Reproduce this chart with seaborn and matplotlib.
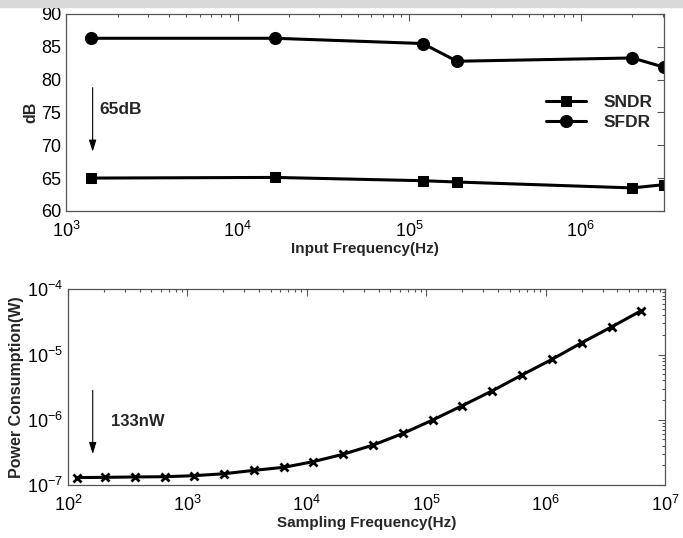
import matplotlib
matplotlib.use("Agg")
import matplotlib.pyplot as plt
import seaborn as sns
import pandas as pd
from matplotlib.patches import Rectangle
from matplotlib.ticker import LogLocator, NullFormatter

# top panel: SNDR / SFDR against input frequency
input_freq = [1.4e3, 1.65e4, 1.2e5, 1.9e5, 2.0e6, 3.05e6]
sndr = [65.0, 65.1, 64.6, 64.4, 63.5, 64.0]
sfdr = [86.3, 86.3, 85.5, 82.8, 83.3, 81.9]

# bottom panel: power consumption against sampling frequency
samp_freq = [118, 205, 366, 646, 1.14e3, 2.04e3, 3.63e3, 6.46e3, 1.13e4, 2.0e4,
             3.6e4, 6.43e4, 1.13e5, 2.0e5, 3.58e5, 6.3e5, 1.14e6, 2.0e6, 3.57e6, 6.27e6]
power = [1.30e-7, 1.31e-7, 1.33e-7, 1.34e-7, 1.39e-7, 1.49e-7, 1.68e-7, 1.87e-7, 2.28e-7, 2.95e-7,
         4.1e-7, 6.2e-7, 9.9e-7, 1.64e-6, 2.78e-6, 4.83e-6, 8.5e-6, 1.51e-5, 2.65e-5, 4.66e-5]

sns.set_style("white")
plt.rcParams['font.family'] = ['Liberation Sans', 'DejaVu Sans']
plt.rcParams['mathtext.fontset'] = 'custom'
plt.rcParams['mathtext.rm'] = 'Liberation Sans'
plt.rcParams['mathtext.it'] = 'Liberation Sans:italic'
plt.rcParams['mathtext.bf'] = 'Liberation Sans:bold'

fig = plt.figure(figsize=(6.83, 5.38), dpi=100)
fig.patches.append(Rectangle((0, 0.987), 1, 0.013, transform=fig.transFigure,
                             color="#d9d9d9", zorder=0))

ax1 = fig.add_axes([0.0966, 0.608, 0.8754, 0.366])
ax2 = fig.add_axes([0.0996, 0.0985, 0.874, 0.3638])

df_top = pd.DataFrame({"freq": input_freq, "SNDR": sndr, "SFDR": sfdr})
sns.lineplot(data=df_top, x="freq", y="SNDR", ax=ax1, color="black", lw=2.2,
             marker="s", markersize=7.5, markeredgecolor="black", label="SNDR")
sns.lineplot(data=df_top, x="freq", y="SFDR", ax=ax1, color="black", lw=2.2,
             marker="o", markersize=8.7, markeredgecolor="black", label="SFDR")
ax1.set_xscale("log")
ax1.set_xlim(1e3, 3.05e6)
ax1.set_ylim(60, 90)
ax1.set_yticks(range(60, 91, 5))
ax1.set_xlabel("Input Frequency(Hz)", fontsize=11, fontweight="bold", labelpad=1)
ax1.set_ylabel("dB", fontsize=11.5, fontweight="bold", labelpad=2)
ax1.legend(loc="center left", bbox_to_anchor=(0.803, 0.5), frameon=False,
           prop={"weight": "bold", "size": 12.5}, borderpad=0, borderaxespad=0,
           handlelength=2.3, handletextpad=1.0, labelspacing=0.25)
ax1.annotate("", xy=(1.43e3, 68.6), xytext=(1.43e3, 79.2),
             arrowprops=dict(arrowstyle="-|>,head_width=0.22,head_length=0.7",
                             color="black", lw=0.8))
ax1.text(1.56e3, 75.5, "65dB", fontsize=12.5, fontweight="bold", va="center")

df_bot = pd.DataFrame({"freq": samp_freq, "power": power})
sns.lineplot(data=df_bot, x="freq", y="power", ax=ax2, color="black", lw=2.2,
             marker="x", markersize=6, markeredgewidth=2, markeredgecolor="black")
ax2.set_xscale("log")
ax2.set_yscale("log")
ax2.set_xlim(1e2, 1e7)
ax2.set_ylim(1e-7, 1e-4)
ax2.set_xlabel("Sampling Frequency(Hz)", fontsize=11, fontweight="bold", labelpad=1)
ax2.set_ylabel("Power Consumption(W)", fontsize=11.5, fontweight="bold", labelpad=2)
ax2.annotate("", xy=(161, 2.7e-7), xytext=(161, 3.1e-6),
             arrowprops=dict(arrowstyle="-|>,head_width=0.22,head_length=0.7",
                             color="black", lw=0.8))
ax2.text(229, 9.3e-7, "133nW", fontsize=12, fontweight="bold", va="center")

for ax in (ax1, ax2):
    for s in ax.spines.values():
        s.set_color("#555555")
        s.set_linewidth(0.9)
    ax.tick_params(which="both", direction="in", top=True, right=True,
                   colors="#555555", labelcolor="black", labelsize=13, width=0.8)
    ax.tick_params(which="major", length=5)
    ax.tick_params(which="minor", length=2.5)
    ax.tick_params(axis="x", which="major", pad=7)
    ax.xaxis.set_minor_locator(LogLocator(base=10, subs=range(2, 10), numticks=20))
    ax.xaxis.set_minor_formatter(NullFormatter())
ax2.yaxis.set_minor_locator(LogLocator(base=10, subs=range(2, 10), numticks=20))
ax2.yaxis.set_minor_formatter(NullFormatter())
ax1.tick_params(axis="y", which="minor", left=False, right=False)

fig.savefig("out.png", dpi=100)
